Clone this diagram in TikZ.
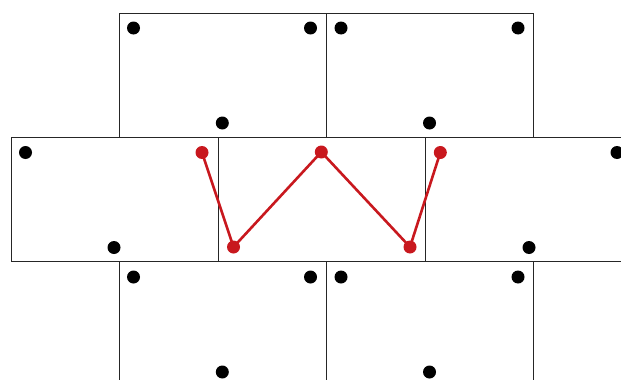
\documentclass[tikz,border=0pt]{standalone}
\begin{document}
\begin{tikzpicture}[x=1pt,y=-1pt,
  cell/.style={draw=black!85,line width=1pt},
  bdot/.style={circle,fill=black,inner sep=0pt,minimum size=13pt},
  rdot/.style={circle,fill=wred,inner sep=0pt,minimum size=13pt},
  wline/.style={draw=wred,line width=2.6pt}]
\definecolor{wred}{RGB}{200,24,30}
\useasboundingbox (0,0) rectangle (621,380);
\clip (0,0) rectangle (621,380);
% top row
\draw[cell] (119,13) rectangle (326,137);
\draw[cell] (326,13) rectangle (533,137);
% middle row
\draw[cell] (11,137) rectangle (218,261);
\draw[cell] (218,137) rectangle (425,261);
\draw[cell] (425,137) rectangle (632,261);
% bottom row
\draw[cell] (119,261) rectangle (326,385);
\draw[cell] (326,261) rectangle (533,385);
% dots top
\node[bdot] (t1a) at (133.5,28) {};
\node[bdot] (t1b) at (310.5,28) {};
\node[bdot] (t1c) at (222.3,123) {};
\node[bdot] (t2a) at (341,28) {};
\node[bdot] (t2b) at (518,28) {};
\node[bdot] (t2c) at (429.5,123) {};
% dots middle
\node[bdot] (m1a) at (25.5,152.5) {};
\node[bdot] (m1c) at (114,247.5) {};
\node[bdot] (m3b) at (617,152.5) {};
\node[bdot] (m3c) at (529,247.5) {};
% dots bottom
\node[bdot] (b1a) at (133.5,277) {};
\node[bdot] (b1b) at (310.5,277) {};
\node[bdot] (b1c) at (222.3,372) {};
\node[bdot] (b2a) at (341,277) {};
\node[bdot] (b2b) at (518,277) {};
\node[bdot] (b2c) at (429.5,372) {};
% red path
\coordinate (r1) at (202,152.5);
\coordinate (r2) at (233.5,247);
\coordinate (r3) at (321.3,152);
\coordinate (r4) at (410,247);
\coordinate (r5) at (440.3,152.5);
\draw[wline,line join=round] (r1) -- (r2) -- (r3) -- (r4) -- (r5);
\node[rdot] (p1) at (r1) {};
\node[rdot] (p2) at (r2) {};
\node[rdot] (p3) at (r3) {};
\node[rdot] (p4) at (r4) {};
\node[rdot] (p5) at (r5) {};
\end{tikzpicture}
\end{document}
